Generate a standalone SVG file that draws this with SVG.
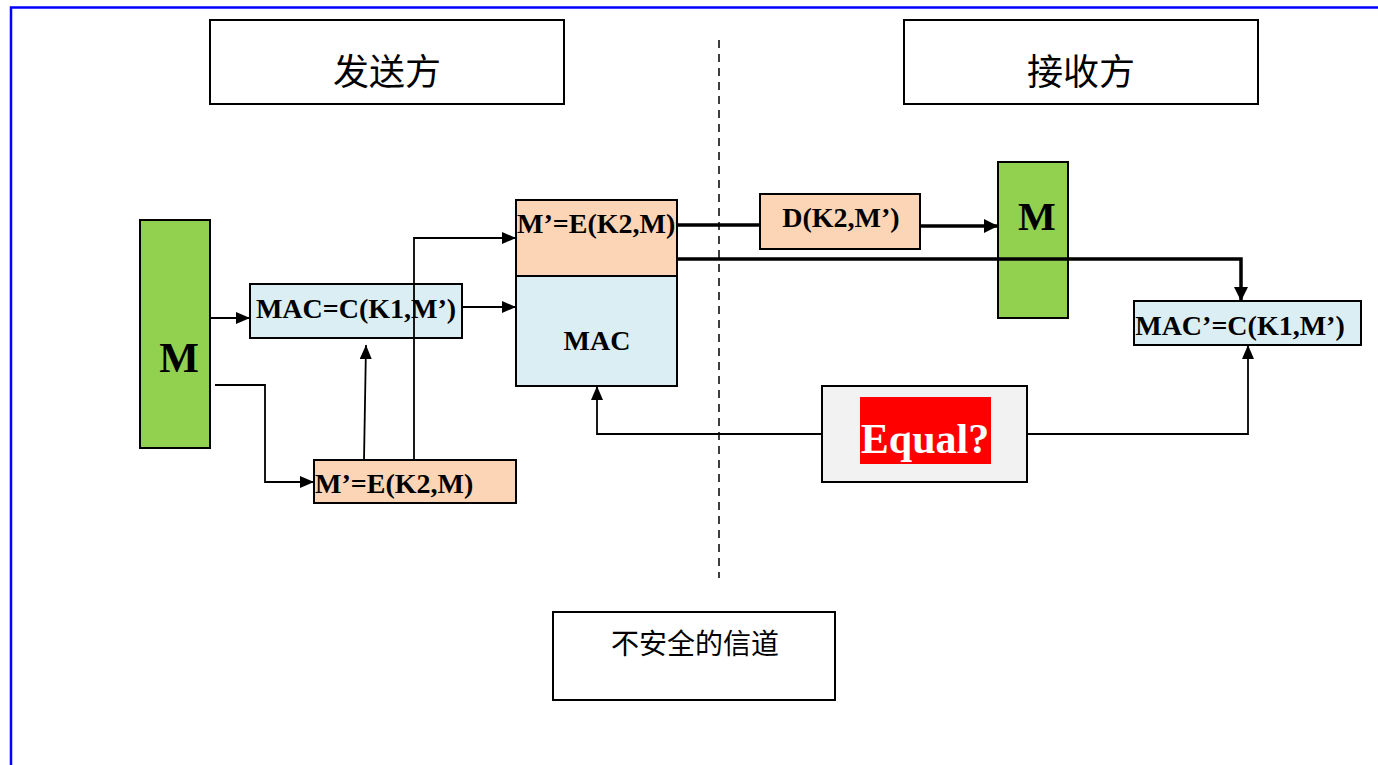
<svg xmlns="http://www.w3.org/2000/svg" width="1378" height="765" viewBox="0 0 1378 765">
<defs>
<marker id="ah" markerWidth="14" markerHeight="12" refX="14" refY="6" orient="auto" markerUnits="userSpaceOnUse"><path d="M0,0 L14,6 L0,12 Z" fill="#000"/></marker>
<marker id="ahb" markerWidth="14" markerHeight="14" refX="14" refY="7" orient="auto" markerUnits="userSpaceOnUse"><path d="M0,0 L14,7 L0,14 Z" fill="#000"/></marker>
</defs>
<style>
.box{stroke:#000;stroke-width:2}
.green{fill:#92D050}
.blue{fill:#DAEEF3}
.peach{fill:#FBD5B5}
.white{fill:#fff}
.gray{fill:#F2F2F2}
.t{font-family:"Liberation Serif","Times New Roman",serif;font-weight:bold;fill:#000}
.cjk{font-family:"Noto Sans CJK SC","Noto Sans",sans-serif;fill:#000}
.c{fill:none;stroke:#000;stroke-width:1.8}
.ct{fill:none;stroke:#000;stroke-width:3.5}
</style>
<rect x="0" y="0" width="1378" height="765" fill="#fff"/>
<path d="M11,765 L11,7.5 L1378,7.5" fill="none" stroke="#0000FF" stroke-width="2.5"/>
<line x1="719" y1="40" x2="719" y2="578" stroke="#000" stroke-width="1.5" stroke-dasharray="8,6"/>
<g id="sender"><rect class="box white" x="210" y="20" width="354" height="84"/><text class="cjk" x="387" y="85" font-size="36" text-anchor="middle">发送方</text></g>
<g id="receiver"><rect class="box white" x="904" y="20" width="354" height="84"/><text class="cjk" x="1081" y="85" font-size="36" text-anchor="middle">接收方</text></g>
<g id="m-left"><rect class="box green" x="140" y="220" width="70" height="228"/><text class="t" x="179" y="372" font-size="42" text-anchor="middle">M</text></g>
<g id="mac-calc"><rect class="box blue" x="250" y="284" width="212" height="54"/><text class="t" x="356" y="318" font-size="28" text-anchor="middle">MAC=C(K1,M’)</text></g>
<g id="enc-left"><rect class="box peach" x="314" y="460" width="202" height="43"/><text class="t" x="315" y="493" font-size="28">M’=E(K2,M)</text></g>
<g id="packet"><rect class="box peach" x="516" y="200" width="161" height="76"/><rect class="box blue" x="516" y="276" width="161" height="110"/><text class="t" x="517" y="233" font-size="28">M’=E(K2,M)</text><text class="t" x="597" y="350" font-size="28" text-anchor="middle">MAC</text></g>
<g id="dec"><rect class="box peach" x="760" y="194" width="160" height="55"/><text class="t" x="841" y="227" font-size="28" text-anchor="middle">D(K2,M’)</text></g>
<g id="m-right"><rect class="box green" x="998" y="162" width="70" height="156"/><text class="t" x="1037" y="230" font-size="40" text-anchor="middle">M</text></g>
<g id="mac-recv"><rect class="box blue" x="1134" y="301" width="227" height="44"/><text class="t" x="1240" y="335" font-size="28" text-anchor="middle">MAC’=C(K1,M’)</text></g>
<g id="equal"><rect class="box gray" x="822" y="386" width="205" height="96"/><rect x="860" y="397" width="131" height="67" fill="#FF0000"/><text x="925" y="453" font-family="'Liberation Serif','Times New Roman',serif" font-weight="bold" font-size="42" fill="#fff" text-anchor="middle">Equal?</text></g>
<g id="channel"><rect class="box white" x="553" y="612" width="282" height="88"/><text class="cjk" x="695" y="654" font-size="28" text-anchor="middle">不安全的信道</text></g>
<g id="connectors">
<path class="c" d="M210,318 L250,318" marker-end="url(#ah)"/>
<path class="c" d="M215,385 L265,385 L265,482 L314,482" marker-end="url(#ah)"/>
<path class="c" d="M364,460 L366,345" marker-end="url(#ah)"/>
<path class="c" d="M414,460 L414,238 L516,238" marker-end="url(#ah)"/>
<path class="c" d="M462,307 L516,307" marker-end="url(#ah)"/>
<path class="ct" d="M677,225 L760,225"/>
<path class="ct" d="M920,226 L998,226" marker-end="url(#ahb)"/>
<path class="ct" d="M677,259 L1241,259 L1241,301" marker-end="url(#ahb)"/>
<path class="c" d="M822,434 L597,434 L597,386" marker-end="url(#ah)"/>
<path class="c" d="M1027,434 L1248,434 L1248,345" marker-end="url(#ah)"/>
</g>
</svg>
